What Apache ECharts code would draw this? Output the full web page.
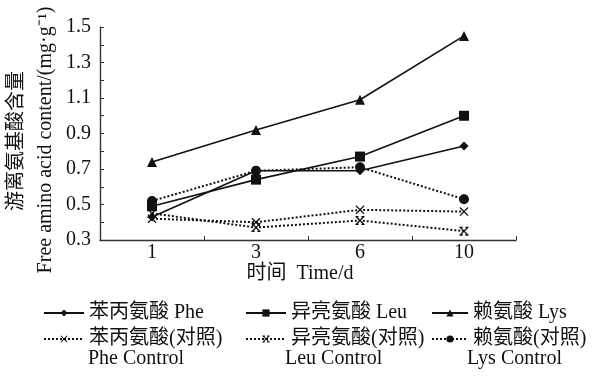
<!DOCTYPE html>
<html>
<head>
<meta charset="utf-8">
<script src="https://cdn.jsdelivr.net/npm/echarts@6/dist/echarts.min.js"></script>
<style>
  html, body { margin: 0; padding: 0; background: #fff; }
  #chart { width: 594px; height: 376px; }
</style>
</head>
<body>
<div id="chart"></div>
<script>
// values
const days = ['1', '3', '6', '10'];
const phe = [0.43, 0.69, 0.69, 0.83];
const leu = [0.49, 0.64, 0.77, 1.00];
const lys = [0.74, 0.92, 1.09, 1.45];
const pheCtrl = [0.42, 0.40, 0.47, 0.46];
const leuCtrl = [0.45, 0.37, 0.41, 0.35];
const lysCtrl = [0.52, 0.69, 0.71, 0.53];

const FONT = "'Liberation Serif', 'Noto Sans CJK SC', serif";
const INK = '#111';

// x marker and the barred x used for the control series
const crossPath = 'path://M0,1L1,0L5,4L9,0L10,1L6,5L10,9L9,10L5,6L1,10L0,9L4,5Z';
const barCrossPath = 'path://M0,1L1,0L5,4L9,0L10,1L6,5L10,9L9,10L5,6L1,10L0,9L4,5Z' +
  'M0,0H3.5V1.4H0Z M6.5,0H10V1.4H6.5Z M0,8.6H3.5V10H0Z M6.5,8.6H10V10H6.5Z';

const chart = echarts.init(document.getElementById('chart'), null, { renderer: 'canvas' });

const mkSeries = (name, data, symbol, size, dotted) => ({
  name: name,
  type: 'line',
  data: data,
  symbol: symbol,
  symbolSize: size,
  showSymbol: true,
  lineStyle: { color: INK, width: dotted ? 2 : 1.6, type: dotted ? 'dotted' : 'solid' },
  itemStyle: { color: INK },
  emphasis: { disabled: true },
  animation: false
});

const mkLegend = (name, left, top, w) => ({
  data: [name],
  left: left,
  top: top,
  itemWidth: w,
  itemHeight: 9,
  selectedMode: false,
  textStyle: { fontFamily: FONT, fontSize: 20, color: INK }
});

const option = {
  backgroundColor: '#fff',
  grid: { left: 100, right: 78, top: 27, bottom: 136 },
  xAxis: {
    type: 'category',
    data: days,
    boundaryGap: true,
    axisLine: { lineStyle: { color: '#333', width: 1.4 } },
    axisTick: { show: true, inside: true, length: 4, interval: 0, lineStyle: { color: '#333' } },
    axisLabel: { fontFamily: FONT, fontSize: 20, color: INK, margin: 3 },
    splitLine: { show: false }
  },
  yAxis: {
    type: 'value',
    min: 0.3,
    max: 1.5,
    interval: 0.1,
    axisLine: { show: true, lineStyle: { color: '#333', width: 1.4 } },
    axisTick: { show: true, inside: true, length: 4, lineStyle: { color: '#333' } },
    axisLabel: {
      fontFamily: FONT, fontSize: 20, color: INK, margin: 9,
      formatter: v => {
        const k = Math.round(v * 10);
        return k % 2 === 1 ? (k / 10).toFixed(1) : '';
      }
    },
    splitLine: { show: false }
  },
  legend: [
    mkLegend('苯丙氨酸 Phe', 38, 298, 40),
    mkLegend('异亮氨酸 Leu', 240, 298, 40),
    mkLegend('赖氨酸 Lys', 426, 298, 36),
    mkLegend('苯丙氨酸(对照)', 38, 324, 40),
    mkLegend('异亮氨酸(对照)', 240, 324, 40),
    mkLegend('赖氨酸(对照)', 426, 324, 36)
  ],
  graphic: [
    { type: 'text', x: 17, y: 141, rotation: Math.PI / 2,
      style: { text: '游离氨基酸含量', font: '20px ' + FONT, fill: INK, align: 'center', verticalAlign: 'middle' } },
    { type: 'text', x: 46, y: 140, rotation: Math.PI / 2,
      style: { text: 'Free amino acid content/(mg·g⁻¹)', font: '20px ' + FONT, fill: INK, align: 'center', verticalAlign: 'middle' } },
    { type: 'text', x: 300, y: 274,
      style: { text: '时间  Time/d', font: '20px ' + FONT, fill: INK, align: 'center', verticalAlign: 'middle' } },
    { type: 'text', x: 88, y: 359,
      style: { text: 'Phe Control', font: '20px ' + FONT, fill: INK, align: 'left', verticalAlign: 'middle' } },
    { type: 'text', x: 285, y: 359,
      style: { text: 'Leu Control', font: '20px ' + FONT, fill: INK, align: 'left', verticalAlign: 'middle' } },
    { type: 'text', x: 467, y: 359,
      style: { text: 'Lys Control', font: '20px ' + FONT, fill: INK, align: 'left', verticalAlign: 'middle' } }
  ],
  series: [
    mkSeries('苯丙氨酸 Phe', phe, 'diamond', 9, false),
    mkSeries('异亮氨酸 Leu', leu, 'rect', 10, false),
    mkSeries('赖氨酸 Lys', lys, 'triangle', 10, false),
    mkSeries('苯丙氨酸(对照)', pheCtrl, crossPath, 9, true),
    mkSeries('异亮氨酸(对照)', leuCtrl, barCrossPath, 9, true),
    mkSeries('赖氨酸(对照)', lysCtrl, 'circle', 10, true)
  ]
};

chart.setOption(option);
</script>
</body>
</html>
